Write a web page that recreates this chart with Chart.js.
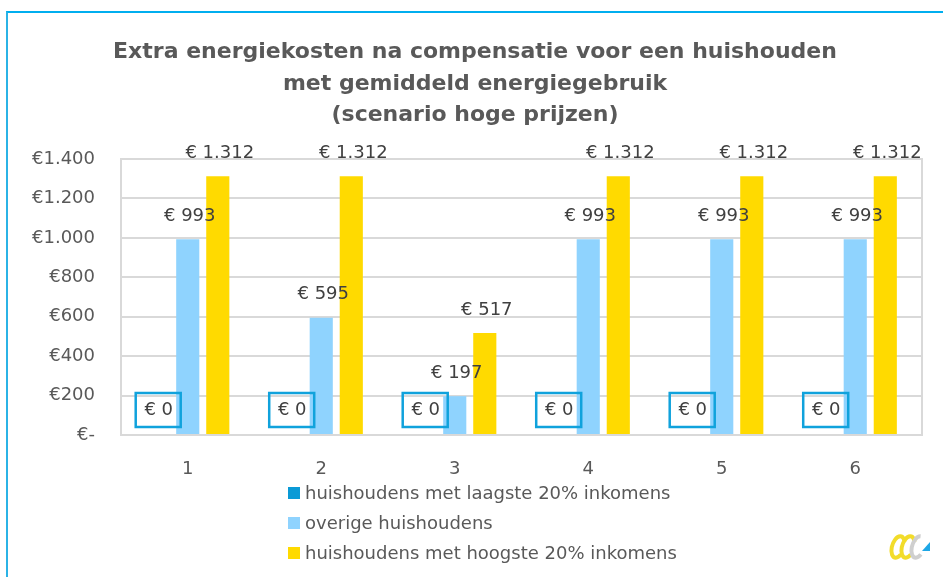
<!DOCTYPE html>
<html>
<head>
<meta charset="utf-8">
<script src="https://cdn.jsdelivr.net/npm/chart.js@4/dist/chart.umd.min.js"></script>
<style>
  html, body { margin: 0; padding: 0; background: #fff; }
  #wrap { position: relative; width: 943px; height: 577px; overflow: hidden; }
  #frame { position: absolute; left: 6px; top: 11px; right: -5px; bottom: -5px;
           border-left: 2px solid #2bb3e6; border-top: 2px solid #00aeef; }
  #title { position: absolute; left: 75px; width: 800px; top: 35px; text-align: center;
           font-family: "DejaVu Sans", sans-serif; font-weight: bold; font-size: 22px;
           line-height: 31.5px; color: #595959; }
  #legend { position: absolute; left: 288px; top: 480px; font-family: "DejaVu Sans", sans-serif;
            font-size: 18px; color: #595959; }
  #legend div { height: 30px; line-height: 26px; white-space: nowrap; }
  #legend span { display: inline-block; width: 12px; height: 12px; margin-right: 5px; vertical-align: 0px; }
</style>
</head>
<body>
<div id="wrap">
  <div id="frame"></div>
  <canvas id="chart" width="943" height="577"></canvas>
  <div id="title"></div>
  <div id="legend"></div>
</div>
<script>
// chart data
const titleLines = [
    'Extra energiekosten na compensatie voor een huishouden',
    'met gemiddeld energiegebruik',
    '(scenario hoge prijzen)'
];
const categories = ['1', '2', '3', '4', '5', '6'];
const seriesNames = [
    'huishoudens met laagste 20% inkomens',
    'overige huishoudens',
    'huishoudens met hoogste 20% inkomens'
];
const lowestIncome = [0, 0, 0, 0, 0, 0];
const otherHouseholds = [993, 595, 197, 993, 993, 993];
const highestIncome = [1312, 1312, 517, 1312, 1312, 1312];
const seriesColors = ['#0a9ad6', '#8fd3fe', '#ffda00'];

const textColor = '#595959';
const fontFamily = '"DejaVu Sans", sans-serif';

function euro(v) {
    return String(Math.round(v)).replace(/\B(?=(\d{3})+(?!\d))/g, '.');
}

// plot border + value labels
const labelPlugin = {
    id: 'valueLabels',
    beforeDatasetsDraw(chart) {
        const a = chart.chartArea;
        const ctx = chart.ctx;
        ctx.save();
        ctx.strokeStyle = '#d9d9d9';
        ctx.lineWidth = 2;
        ctx.strokeRect(a.left, a.top, a.right - a.left, a.bottom - a.top);
        ctx.restore();
    },
    afterDatasetsDraw(chart) {
        const ctx = chart.ctx;
        ctx.save();
        ctx.font = '18px ' + fontFamily;
        ctx.fillStyle = '#404040';
        ctx.textAlign = 'center';
        ctx.textBaseline = 'middle';
        chart.data.datasets.forEach((ds, i) => {
            chart.getDatasetMeta(i).data.forEach((bar, j) => {
                const txt = '€ ' + euro(ds.data[j]);
                if (i === 0) {
                    ctx.strokeStyle = '#10a2dc';
                    ctx.lineWidth = 2.5;
                    ctx.strokeRect(bar.x - 22, bar.y - 42, 45, 34);
                    ctx.fillText(txt, bar.x + 1, bar.y - 25);
                } else {
                    ctx.fillText(txt, bar.x + 2, bar.y - 23);
                }
            });
        });
        ctx.restore();
    },
    afterDraw(chart) {
        // small logo in the corner
        const ctx = chart.ctx;
        ctx.save();
        ctx.lineWidth = 4;
        ctx.strokeStyle = '#f2dc2a';
        ctx.beginPath(); ctx.ellipse(898, 547, 6, 11, 0.3, 0.6, 5.6); ctx.stroke();
        ctx.beginPath(); ctx.ellipse(908, 547, 6, 11, 0.3, 0.6, 5.6); ctx.stroke();
        ctx.strokeStyle = '#cfcfcf';
        ctx.beginPath(); ctx.ellipse(918, 547, 6, 11, 0.3, 0.6, 4.6); ctx.stroke();
        ctx.fillStyle = '#1ea7e6';
        ctx.beginPath(); ctx.moveTo(922, 551); ctx.lineTo(930, 551); ctx.lineTo(930, 542); ctx.closePath(); ctx.fill();
        ctx.restore();
    }
};

const datasets = [lowestIncome, otherHouseholds, highestIncome].map((d, i) => ({
    label: seriesNames[i],
    data: d,
    backgroundColor: seriesColors[i],
    barPercentage: 0.77,
    categoryPercentage: 0.675
}));

const ctx = document.getElementById('chart').getContext('2d');
new Chart(ctx, {
    type: 'bar',
    data: { labels: categories, datasets: datasets },
    options: {
        responsive: false,
        animation: false,
        layout: { padding: { left: 0, right: 21, top: 159, bottom: 102 } },
        plugins: {
            legend: { display: false },
            tooltip: { enabled: false },
            title: { display: false }
        },
        scales: {
            x: {
                grid: { display: false },
                border: { display: false },
                ticks: { color: textColor, font: { family: fontFamily, size: 18 }, padding: 16 },
                afterFit(scale) { scale.height = 40; }
            },
            y: {
                min: 0,
                max: 1400,
                grid: { color: '#d9d9d9', lineWidth: 2, drawTicks: false },
                border: { display: false },
                ticks: {
                    stepSize: 200,
                    color: textColor,
                    padding: 26,
                    font: { family: fontFamily, size: 18 },
                    callback: v => v === 0 ? '€-' : '€' + euro(v)
                },
                afterFit(scale) { scale.width = 121; }
            }
        }
    },
    plugins: [labelPlugin]
});

// title and legend as page text
document.getElementById('title').innerHTML = titleLines.join('<br>');

const legend = document.getElementById('legend');
seriesNames.forEach((name, i) => {
    const row = document.createElement('div');
    const box = document.createElement('span');
    box.style.background = seriesColors[i];
    row.appendChild(box);
    row.appendChild(document.createTextNode(name));
    legend.appendChild(row);
});
</script>
</body>
</html>
